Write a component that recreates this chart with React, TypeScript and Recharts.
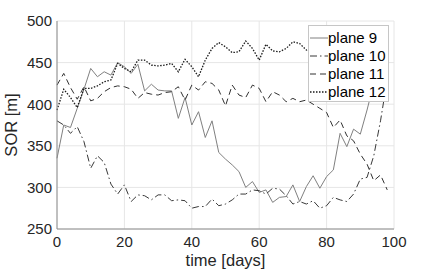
import React from 'react';
import { LineChart, Line, XAxis, YAxis, CartesianGrid, Legend } from 'recharts';

const days = [
  0, 2, 4, 6, 8, 10, 12, 14, 16, 18, 20, 22, 24, 26, 28, 30, 32, 34, 36, 38,
  40, 42, 44, 46, 48, 50, 52, 54, 56, 58, 60, 62, 64, 66, 68, 70, 72, 74, 76, 78,
  80, 82, 84, 86, 88, 90, 92, 94, 96, 98,
];

const plane9 = [
  335, 375, 372, 395, 418, 443, 433, 439, 435, 450,
  445, 437, 448, 416, 424, 417, 416, 416, 383, 408,
  375, 391, 360, 380, 342, 334, 327, 319, 300, 307,
  294, 297, 282, 288, 289, 303, 283, 301, 314, 299,
  313, 321, 365, 349, 370, 364, 393, 425, 430, 435,
];

const plane10 = [
  380, 375, 365, 373, 355, 323, 338, 330, 304, 292,
  303, 283, 291, 290, 285, 291, 291, 284, 285, 284,
  275, 277, 277, 286, 278, 280, 285, 292, 292, 297,
  296, 292, 299, 298, 290, 280, 283, 280, 284, 275,
  278, 288, 285, 283, 292, 310, 312, 338, 380, 430,
];

const plane11 = [
  423, 437, 420, 406, 421, 404, 407, 415, 420, 422,
  421, 418, 407, 414, 412, 411, 414, 415, 421, 405,
  423, 417, 427, 425, 417, 398, 423, 411, 408, 423,
  419, 403, 415, 411, 403, 407, 403, 405, 400, 395,
  390, 372, 381, 362, 356, 340, 328, 308, 315, 297,
];

const plane12 = [
  393, 418, 408, 396, 419, 419, 422, 427, 429, 449,
  443, 439, 453, 453, 447, 446, 447, 449, 439, 454,
  445, 433, 453, 467, 474, 469, 462, 463, 476, 467,
  453, 472, 464, 463, 467, 475, 473, 465, 468, 470,
  466, 468, 465, 470, 468, 465, 467, 470, 468, 466,
];

const xTicks = [0, 20, 40, 60, 80, 100];
const yTicks = [250, 300, 350, 400, 450, 500];

const FONT = '"Liberation Sans", Arial, Helvetica, sans-serif';

const series = [
  { key: 'plane9', name: 'plane 9', color: '#808080', dash: undefined as string | undefined, width: 1 },
  { key: 'plane10', name: 'plane 10', color: '#383838', dash: '7 3 1.5 3', width: 1 },
  { key: 'plane11', name: 'plane 11', color: '#303030', dash: '6 4', width: 1 },
  { key: 'plane12', name: 'plane 12', color: '#1a1a1a', dash: '1.5 1.5', width: 1.3 },
];

const data = days.map((day, i) => ({
  day,
  plane9: plane9[i],
  plane10: plane10[i],
  plane11: plane11[i],
  plane12: plane12[i],
}));

const BoxLegend = () => (
  <div
    style={{
      background: '#fff',
      border: '1px solid #c6c6c6',
      boxSizing: 'border-box',
      width: 81,
      height: 77,
      paddingTop: 3,
      fontFamily: FONT,
    }}
  >
    {series.map((s) => (
      <div key={s.key} style={{ display: 'flex', alignItems: 'center', height: 18 }}>
        <svg width={19} height={10} style={{ display: 'block' }}>
          <line x1={1} y1={5} x2={19} y2={5} stroke={s.color} strokeWidth={s.width} strokeDasharray={s.dash} />
        </svg>
        <span style={{ fontSize: 15, color: '#000', lineHeight: '18px', whiteSpace: 'nowrap' }}>{s.name}</span>
      </div>
    ))}
  </div>
);

const YLabel = ({ viewBox }: any) => {
  const cy = viewBox ? viewBox.y + viewBox.height / 2 : 125;
  return (
    <text x={17} y={cy} transform={`rotate(-90 17 ${cy})`} textAnchor="middle" fontSize={16.5} fontFamily={FONT} fill="#262626">
      SOR [m]
    </text>
  );
};

const XLabel = ({ viewBox }: any) => {
  const cx = viewBox ? viewBox.x + viewBox.width / 2 : 225;
  return (
    <text x={cx} y={266} textAnchor="middle" fontSize={16.5} fontFamily={FONT} fill="#262626">
      time [days]
    </text>
  );
};

export default function App() {
  return (
    <div style={{ position: 'absolute', left: 0, top: 0, width: 436, height: 273, background: '#fff' }}>
      <LineChart width={436} height={273} data={data} margin={{ top: 21, right: 42, bottom: 0, left: 0 }}>
        <CartesianGrid stroke="#e6e6e6" />
        <XAxis
          dataKey="day"
          type="number"
          domain={[0, 100]}
          ticks={xTicks}
          height={44}
          tickSize={0}
          tickMargin={7}
          axisLine={{ stroke: '#8c8c8c' }}
          tick={{ fontSize: 15, fill: '#262626', fontFamily: FONT }}
          label={{ content: XLabel }}
        />
        <YAxis
          type="number"
          domain={[250, 500]}
          ticks={yTicks}
          width={57}
          tickSize={0}
          tickMargin={5}
          axisLine={{ stroke: '#8c8c8c' }}
          tick={{ fontSize: 15, fill: '#262626', fontFamily: FONT }}
          label={{ content: YLabel }}
        />
        {series.map((s) => (
          <Line
            key={s.key}
            dataKey={s.key}
            name={s.name}
            stroke={s.color}
            strokeWidth={s.width}
            strokeDasharray={s.dash}
            dot={false}
            activeDot={false}
            isAnimationActive={false}
          />
        ))}
        <Legend
          layout="horizontal"
          align="center"
          verticalAlign="middle"
          width={81}
          content={BoxLegend}
          wrapperStyle={{ left: 308, top: 25, width: 81, height: 77 }}
        />
      </LineChart>
    </div>
  );
}
